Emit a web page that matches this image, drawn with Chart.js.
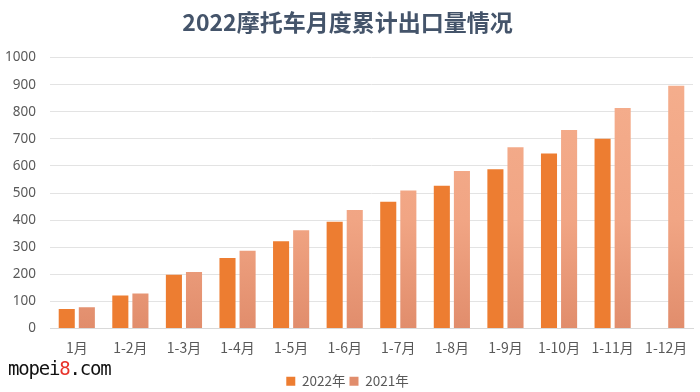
<!DOCTYPE html>
<html>
<head>
<meta charset="utf-8">
<script src="https://cdn.jsdelivr.net/npm/chart.js@4"></script>
<style>
  body { margin: 0; background: #fff; }
  #wrap { position: relative; width: 700px; height: 392px; }
  #mark {
    position: absolute; left: 8px; top: 357px;
    font-family: "DejaVu Sans Mono", monospace; font-size: 19px; color: #111;
    letter-spacing: -1.2px;
  }
  #mark span { color: #e8332a; }
</style>
</head>
<body>
<div id="wrap">
  <canvas id="chart" width="700" height="392"></canvas>
  <div id="mark">mopei<span>8</span>.com</div>
</div>
<script>
const months = ['1月', '1-2月', '1-3月', '1-4月', '1-5月', '1-6月', '1-7月', '1-8月', '1-9月', '1-10月', '1-11月', '1-12月'];
const exports2022 = [72, 122, 198, 260, 322, 394, 468, 527, 588, 646, 700, null];
const exports2021 = [78, 129, 209, 287, 363, 437, 509, 581, 669, 733, 814, 896];
const yTicks = [0, 100, 200, 300, 400, 500, 600, 700, 800, 900, 1000];

// 2021 bars fade a little darker toward the bottom
function fade(context) {
    const area = context.chart.chartArea;
    if (!area) return '#F2A988';
    const g = context.chart.ctx.createLinearGradient(0, area.top, 0, area.bottom);
    g.addColorStop(0, '#F5AF8E');
    g.addColorStop(0.6, '#F1A584');
    g.addColorStop(1, '#E18D6C');
    return g;
}

const ctx = document.getElementById('chart').getContext('2d');
new Chart(ctx, {
    type: 'bar',
    data: {
        labels: months,
        datasets: [
            {
                label: '2022年',
                data: exports2022,
                backgroundColor: '#ED7D31',
                barPercentage: 0.8,
                categoryPercentage: 0.75
            },
            {
                label: '2021年',
                data: exports2021,
                backgroundColor: fade,
                barPercentage: 0.8,
                categoryPercentage: 0.75
            }
        ]
    },
    options: {
        responsive: false,
        animation: false,
        layout: { padding: { left: 2, right: 7, top: 0, bottom: -6 } },
        scales: {
            x: {
                grid: { display: false },
                border: { color: '#D9D9D9' },
                afterFit: axis => { axis.height = 42; },
                ticks: {
                    color: '#595959',
                    font: { family: 'Noto Sans CJK SC', size: 14 },
                    maxRotation: 0,
                    autoSkip: false,
                    padding: 3
                }
            },
            y: {
                min: 0,
                max: 1000,
                afterBuildTicks: axis => { axis.ticks = yTicks.map(v => ({ value: v })); },
                afterFit: axis => { axis.width = 48; },
                grid: { color: '#E3E3E3', drawTicks: false },
                border: { display: false },
                ticks: {
                    color: '#595959',
                    font: { family: 'Noto Sans', size: 13.5 },
                    padding: 14,
                    callback: v => String(v)
                }
            }
        },
        plugins: {
            title: {
                display: true,
                text: '2022摩托车月度累计出口量情况',
                color: '#44546A',
                font: { family: 'Noto Sans CJK SC', size: 23, weight: 'bold' },
                padding: { top: 8, bottom: 22 }
            },
            legend: {
                position: 'bottom',
                labels: {
                    color: '#595959',
                    font: { family: 'Noto Sans CJK SC', size: 13.5 },
                    boxWidth: 9,
                    boxHeight: 9,
                    padding: 4
                }
            },
            tooltip: { enabled: false }
        }
    }
});
</script>
</body>
</html>
